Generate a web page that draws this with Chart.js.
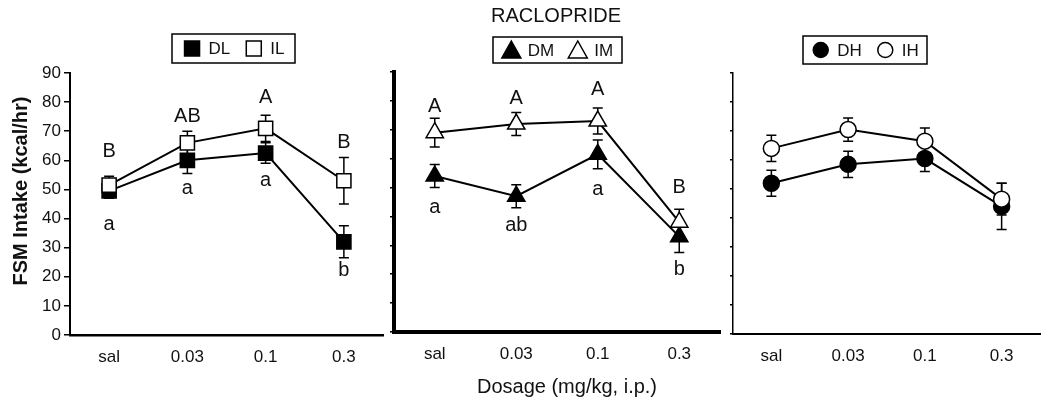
<!DOCTYPE html>
<html>
<head>
<meta charset="utf-8">
<script src="https://cdn.jsdelivr.net/npm/chart.js@4.4.1/dist/chart.umd.min.js"></script>
<style>
  html, body { margin: 0; padding: 0; background: #fff; }
  #wrap { position: relative; width: 1050px; height: 404px; }
  canvas { position: absolute; top: 0; }
</style>
</head>
<body>
<div id="wrap">
  <canvas id="chart-lateral" width="386" height="404" style="left:0"></canvas>
  <canvas id="chart-medial" width="336" height="404" style="left:386px"></canvas>
  <canvas id="chart-hyper" width="328" height="404" style="left:722px"></canvas>
</div>
<script>
/* raclopride dose–response, three panels */

const DOSES = ['sal', '0.03', '0.1', '0.3'];
const Y_MIN = 0;
const Y_MAX = 90;
const Y_STEP = 10;

// left panel
const DL = [49.5, 60, 62.5, 32];
const DL_SEM = [2.5, 4.5, 3.5, 5.5];
const IL = [51.5, 66, 71, 53];
const IL_SEM = [3, 4, 4.5, 8];
const IL_LETTERS = ['B', 'AB', 'A', 'B'];
const IL_LETTER_AT = [63, 75, 81.5, 66];
const DL_LETTERS = ['a', 'a', 'a', 'b'];
const DL_LETTER_AT = [38, 50.5, 53, 22];

// middle panel
const DM = [54, 47, 61.5, 33];
const DM_SEM = [4, 4, 5, 5.5];
const IM = [69, 72, 73, 38];
const IM_SEM = [5, 4, 4.5, 4.5];
const IM_LETTERS = ['A', 'A', 'A', 'B'];
const IM_LETTER_AT = [78, 81, 84, 50];
const DM_LETTERS = ['a', 'ab', 'a', 'b'];
const DM_LETTER_AT = [43, 37, 49.5, 21.5];

// right panel
const DH = [52, 58.5, 60.5, 44];
const DH_SEM = [4.5, 4.5, 4.5, 8];
const IH = [64, 70.5, 66.5, 46.5];
const IH_SEM = [4.5, 4, 4.5, 5.5];

const FONT = "'Liberation Sans', Arial, sans-serif";
const INK = '#111';
Chart.defaults.font.family = FONT;
Chart.defaults.color = INK;

function series(label, data, sem, style, filled, radius) {
  return {
    label, data, sem,
    pointStyle: style,
    pointRadius: radius,
    pointHoverRadius: radius,
    pointBackgroundColor: filled ? '#000' : '#fff',
    pointBorderColor: '#000',
    pointBorderWidth: 1.5,
    borderColor: '#000',
    borderWidth: 2,
    tension: 0,
    fill: false,
    clip: false,
  };
}

/* ── plugins ─────────────────────────────────────────────── */

const errorBars = {
  id: 'errorBars',
  beforeDatasetsDraw(chart) {
    const { ctx, scales: { x, y } } = chart;
    ctx.save();
    ctx.strokeStyle = '#000';
    ctx.lineWidth = 1.5;
    chart.data.datasets.forEach(ds => {
      if (!ds.sem) return;
      ds.data.forEach((v, i) => {
        const px = x.getPixelForValue(i);
        const top = y.getPixelForValue(v + ds.sem[i]);
        const bot = y.getPixelForValue(v - ds.sem[i]);
        ctx.beginPath();
        ctx.moveTo(px, top); ctx.lineTo(px, bot);
        ctx.moveTo(px - 5, top); ctx.lineTo(px + 5, top);
        ctx.moveTo(px - 5, bot); ctx.lineTo(px + 5, bot);
        ctx.stroke();
      });
    });
    ctx.restore();
  },
};

function letterPlugin(sets) {
  return {
    id: 'letters',
    afterDatasetsDraw(chart) {
      const { ctx, scales: { x, y } } = chart;
      ctx.save();
      ctx.font = `20px ${FONT}`;
      ctx.fillStyle = INK;
      ctx.textAlign = 'center';
      ctx.textBaseline = 'middle';
      sets.forEach(s => {
        s.labels.forEach((t, i) => {
          ctx.fillText(t, x.getPixelForValue(i), y.getPixelForValue(s.at[i]));
        });
      });
      ctx.restore();
    },
  };
}

function drawSymbol(ctx, style, filled, cx, cy) {
  ctx.beginPath();
  if (style === 'rect') {
    ctx.rect(cx - 7.5, cy - 7.5, 15, 15);
  } else if (style === 'triangle') {
    ctx.moveTo(cx, cy - 9);
    ctx.lineTo(cx + 9.5, cy + 8);
    ctx.lineTo(cx - 9.5, cy + 8);
    ctx.closePath();
  } else {
    ctx.arc(cx, cy, 7.5, 0, Math.PI * 2);
  }
  ctx.fillStyle = filled ? '#000' : '#fff';
  ctx.fill();
  ctx.lineWidth = 1.5;
  ctx.strokeStyle = '#000';
  ctx.stroke();
}

function boxLegend(box, items) {
  return {
    id: 'boxLegend',
    afterDraw(chart) {
      const ctx = chart.ctx;
      ctx.save();
      ctx.lineWidth = 1.5;
      ctx.strokeStyle = '#000';
      ctx.strokeRect(box.x, box.y, box.w, box.h);
      ctx.font = `17px ${FONT}`;
      ctx.textBaseline = 'middle';
      ctx.textAlign = 'left';
      const symW = 19, gap = 7, between = 14;
      const widths = items.map(it => symW + gap + ctx.measureText(it.text).width);
      const total = widths.reduce((a, b) => a + b, 0) + between * (items.length - 1);
      let cx = box.x + (box.w - total) / 2;
      const cy = box.y + box.h / 2;
      items.forEach((it, i) => {
        drawSymbol(ctx, it.style, it.filled, cx + symW / 2, cy);
        ctx.fillStyle = INK;
        ctx.fillText(it.text, cx + symW + gap, cy + 1);
        cx += widths[i] + between;
      });
      ctx.restore();
    },
  };
}

function captions(list) {
  return {
    id: 'captions',
    afterDraw(chart) {
      const ctx = chart.ctx;
      list.forEach(c => {
        ctx.save();
        ctx.translate(c.x, c.y);
        if (c.rotate) ctx.rotate(c.rotate);
        ctx.font = c.font;
        ctx.fillStyle = INK;
        ctx.textAlign = 'center';
        ctx.textBaseline = 'middle';
        ctx.fillText(c.text, 0, 0);
        ctx.restore();
      });
    },
  };
}

/* ── panel factory ───────────────────────────────────────── */

function renderPanel(canvasId, cfg) {
  return new Chart(document.getElementById(canvasId), {
    type: 'line',
    data: { labels: DOSES, datasets: cfg.datasets },
    options: {
      responsive: false,
      animation: false,
      layout: { autoPadding: false, padding: { top: cfg.top, right: cfg.right, left: 0, bottom: 0 } },
      plugins: { legend: { display: false }, tooltip: { enabled: false } },
      scales: {
        x: {
          offset: true,
          grid: { display: false, drawTicks: false },
          border: { display: true, color: '#000', width: cfg.xBorder },
          ticks: { font: { size: 17 }, color: INK, padding: 12 },
          afterFit: s => {
            s.height = cfg.xHeight;
            s.paddingLeft = 0;
            s.paddingRight = 0;
          },
        },
        y: {
          min: Y_MIN,
          max: Y_MAX,
          grid: { drawOnChartArea: false, drawTicks: true, tickLength: cfg.tickLen, color: '#000', lineWidth: 1.5 },
          border: { display: true, color: '#000', width: cfg.yBorder },
          ticks: { stepSize: Y_STEP, display: cfg.showY, font: { size: 17 }, color: INK, padding: 3 },
          afterFit: s => {
            s.width = cfg.yWidth;
            s.paddingTop = 0;
            s.paddingBottom = 0;
          },
        },
      },
    },
    plugins: cfg.plugins,
  });
}

renderPanel('chart-lateral', {
  datasets: [
    series('IL', IL, IL_SEM, 'rect', false, 10),
    series('DL', DL, DL_SEM, 'rect', true, 10),
  ],
  top: 73, right: 3, xHeight: 69, yWidth: 70,
  xBorder: 2.5, yBorder: 2, tickLen: 6, showY: true,
  plugins: [
    errorBars,
    letterPlugin([{ labels: IL_LETTERS, at: IL_LETTER_AT }, { labels: DL_LETTERS, at: DL_LETTER_AT }]),
    boxLegend({ x: 172, y: 34, w: 123, h: 29 }, [
      { style: 'rect', filled: true, text: 'DL' },
      { style: 'rect', filled: false, text: 'IL' },
    ]),
    captions([{ text: 'FSM Intake (kcal/hr)', x: 21, y: 191, rotate: -Math.PI / 2, font: `bold 20px ${FONT}` }]),
  ],
});

renderPanel('chart-medial', {
  datasets: [
    series('IM', IM, IM_SEM, 'triangle', false, 10),
    series('DM', DM, DM_SEM, 'triangle', true, 10),
  ],
  top: 72, right: 2, xHeight: 72, yWidth: 8,
  xBorder: 4, yBorder: 4, tickLen: 4, showY: false,
  plugins: [
    errorBars,
    letterPlugin([{ labels: IM_LETTERS, at: IM_LETTER_AT }, { labels: DM_LETTERS, at: DM_LETTER_AT }]),
    boxLegend({ x: 107, y: 37, w: 129, h: 26 }, [
      { style: 'triangle', filled: true, text: 'DM' },
      { style: 'triangle', filled: false, text: 'IM' },
    ]),
    captions([
      { text: 'RACLOPRIDE', x: 170, y: 16, font: `20px ${FONT}` },
      { text: 'Dosage (mg/kg, i.p.)', x: 181, y: 387, font: `20px ${FONT}` },
    ]),
  ],
});

renderPanel('chart-hyper', {
  datasets: [
    series('IH', IH, IH_SEM, 'circle', false, 8),
    series('DH', DH, DH_SEM, 'circle', true, 8),
  ],
  top: 73, right: 10, xHeight: 70, yWidth: 11,
  xBorder: 2, yBorder: 1.5, tickLen: 3, showY: false,
  plugins: [
    errorBars,
    boxLegend({ x: 81, y: 36, w: 124, h: 28 }, [
      { style: 'circle', filled: true, text: 'DH' },
      { style: 'circle', filled: false, text: 'IH' },
    ]),
  ],
});
</script>
</body>
</html>
